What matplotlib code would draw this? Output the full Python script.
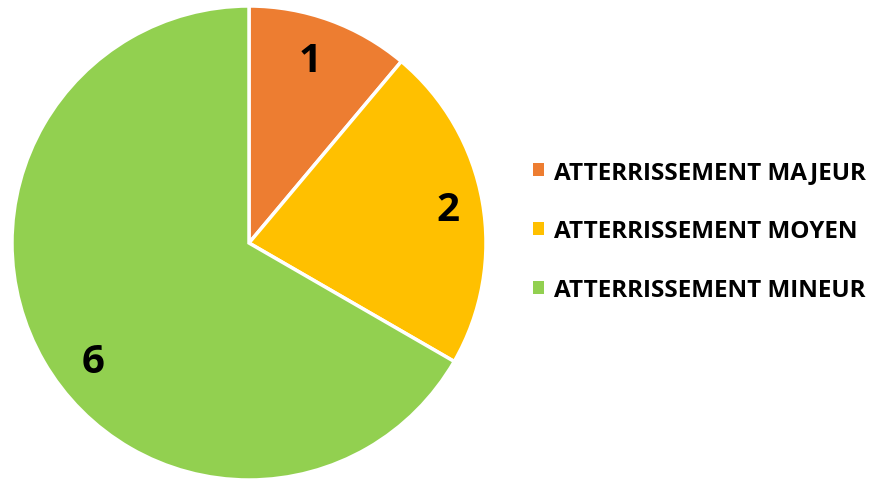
import matplotlib
matplotlib.use('Agg')
from matplotlib import pyplot as plt
from matplotlib.patches import Patch

labels = ['ATTERRISSEMENT MAJEUR', 'ATTERRISSEMENT MOYEN', 'ATTERRISSEMENT MINEUR']
values = [1, 2, 6]
colors = ['#ED7D31', '#FFC000', '#92D050']

fig = plt.figure(figsize=(8.71, 4.81), dpi=100)
ax = fig.add_axes([12/871, 0.0, 474/871, 474/481])

total = sum(values)
wedges, texts, autotexts = ax.pie(values, colors=colors, startangle=90, counterclock=False,
                                  radius=1, pctdistance=0.83,
                                  autopct=lambda p: '%d' % round(p * total / 100),
                                  wedgeprops=dict(edgecolor='white', linewidth=2.5))
for t in autotexts:
    t.set_fontsize(29)
    t.set_fontweight('bold')
    t.set_family('Open Sans')
    t.set_color('black')
# excel puts the big slice label a bit lower
autotexts[0].set_position((0.26, 0.77))
autotexts[1].set_position((0.84, 0.14))
autotexts[2].set_position((-0.66, -0.50))
ax.set_xlim(-1.0, 1.0)
ax.set_ylim(-1.0, 1.0)
ax.set_aspect('equal')

handles = [Patch(facecolor=c, edgecolor='none') for c in colors]
leg = fig.legend(handles, labels, loc='center left', bbox_to_anchor=(533/871, (481-232)/481),
                 frameon=False, prop=dict(family='Open Sans', weight='bold', size=17.5),
                 handlelength=0.45, handleheight=0.45, handletextpad=0.42, labelspacing=1.45,
                 borderpad=0, borderaxespad=0)

fig.savefig('out.png', dpi=100)
